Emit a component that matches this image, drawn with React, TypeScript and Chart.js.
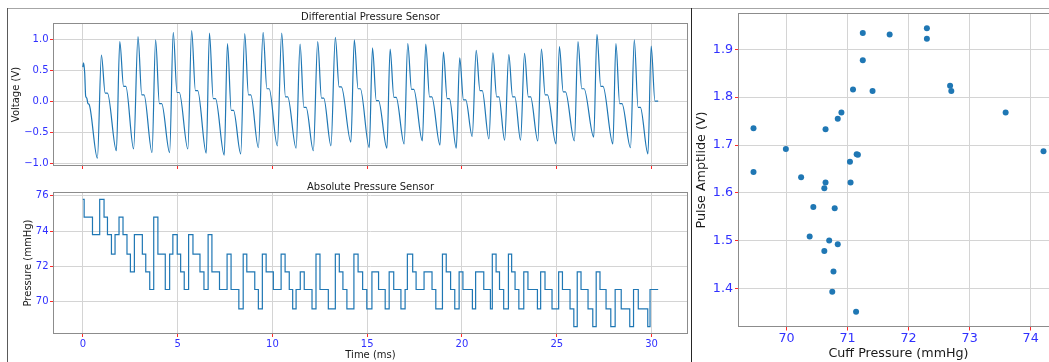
import { useEffect, useRef } from "react";
import { Chart, registerables } from "chart.js";

Chart.register(...registerables);

// ---- axis ticks ----
const timeTicks = [0, 5, 10, 15, 20, 25, 30];
const voltTicks = [-1.0, -0.5, 0.0, 0.5, 1.0];
const pressureTicks = [70, 72, 74, 76];
const cuffTicks = [70, 71, 72, 73, 74];
const ampTicks = [1.4, 1.5, 1.6, 1.7, 1.8, 1.9];

// ---- differential pressure sensor (V) ----
// opening fragment before the first full beat
const leadTimes = [0.0, 0.04, 0.1, 0.15, 0.21, 0.27, 0.33];
const leadVolts = [0.55, 0.62, 0.45, 0.08, 0.05, -0.04, -0.05];
// one entry per beat: trough before the upstroke, systolic peak, dicrotic shelf
const troughTimes = [0.77, 1.77, 2.68, 3.65, 4.58, 5.54, 6.51, 7.46, 8.33, 9.26, 10.26, 11.25, 12.16, 13.09, 14.14, 15.11, 16.04, 16.95, 17.91, 18.84, 19.7, 20.54, 21.42, 22.25, 23.09, 24.0, 24.96, 25.93, 26.95, 27.96, 28.89, 29.81];
const troughVolts = [-0.92, -0.8, -0.77, -0.83, -0.83, -0.77, -0.84, -0.87, -0.85, -0.75, -0.72, -0.76, -0.8, -0.72, -0.66, -0.75, -0.76, -0.69, -0.64, -0.71, -0.76, -0.57, -0.61, -0.63, -0.63, -0.64, -0.69, -0.64, -0.58, -0.69, -0.75, -0.85];
const peakTimes = [0.98, 1.95, 2.91, 3.84, 4.77, 5.74, 6.68, 7.63, 8.54, 9.51, 10.49, 11.46, 12.39, 13.32, 14.32, 15.28, 16.21, 17.14, 18.09, 19.02, 19.88, 20.75, 21.63, 22.47, 23.3, 24.19, 25.14, 26.12, 27.12, 28.12, 29.09, 29.98];
const peakVolts = [0.745, 0.96, 1.04, 0.99, 1.11, 1.14, 1.1, 0.93, 1.09, 1.11, 1.1, 0.92, 0.96, 1.03, 0.99, 0.86, 0.84, 0.93, 0.92, 0.79, 0.7, 0.82, 0.78, 0.75, 0.77, 0.84, 0.88, 0.96, 1.08, 0.93, 0.99, 0.89];
const notchVolts = [0.13, 0.24, 0.1, -0.04, 0.14, 0.17, 0.04, -0.15, 0.1, 0.2, 0.07, -0.1, 0.05, 0.23, 0.2, 0.01, 0.06, 0.19, 0.07, 0.04, 0.02, 0.17, 0.07, 0.07, 0.07, 0.1, 0.15, 0.2, 0.24, -0.04, -0.1, 0.0];
const tailTimes = [30.35];
const tailVolts = [0.0];
const NOTCH_START = 0.2; // ms after the peak
const NOTCH_END = 0.32;

// ---- absolute pressure sensor (mmHg), value held from each time onwards ----
const absTimes = [0, 0.07, 0.51, 0.89, 1.12, 1.3, 1.51, 1.7, 1.91, 2.12, 2.33, 2.51, 2.72, 3.14, 3.32, 3.53, 3.74, 3.96, 4.35, 4.58, 4.75, 4.98, 5.16, 5.35, 5.58, 5.81, 6.18, 6.39, 6.61, 6.81, 7.21, 7.61, 7.82, 8.23, 8.46, 8.65, 9.07, 9.26, 9.47, 9.67, 10.05, 10.46, 10.67, 10.89, 11.07, 11.25, 11.47, 11.68, 12.09, 12.3, 12.51, 12.95, 13.32, 13.53, 13.72, 13.93, 14.3, 14.52, 14.76, 14.98, 15.25, 15.6, 15.95, 16.16, 16.4, 16.78, 17.0, 17.12, 17.4, 17.58, 18.0, 18.42, 18.62, 18.97, 19.17, 19.4, 19.62, 19.85, 20.05, 20.55, 20.72, 21.15, 21.5, 21.6, 21.8, 21.98, 22.2, 22.45, 22.62, 22.8, 23.0, 23.26, 23.48, 23.98, 24.15, 24.38, 24.75, 25.1, 25.3, 25.7, 25.9, 26.08, 26.28, 26.65, 26.9, 27.08, 27.28, 27.6, 27.85, 28.08, 28.4, 28.85, 29.05, 29.3, 29.8, 29.92, 30.35];
const absLevels = [75.8, 74.8, 73.8, 75.8, 74.8, 73.8, 72.7, 73.8, 74.8, 73.8, 72.7, 71.7, 73.8, 72.7, 71.7, 70.7, 74.8, 72.7, 70.7, 72.7, 73.8, 72.7, 71.7, 70.7, 73.8, 72.7, 71.7, 70.7, 73.8, 71.7, 70.7, 72.7, 70.7, 69.6, 72.7, 71.7, 70.7, 69.6, 72.7, 71.7, 70.7, 72.7, 71.7, 70.7, 69.6, 70.7, 71.7, 70.7, 69.6, 72.7, 70.7, 69.6, 72.7, 71.7, 70.7, 69.6, 72.7, 71.7, 70.7, 69.6, 71.7, 70.7, 69.6, 71.7, 70.7, 69.6, 70.7, 72.7, 71.7, 70.7, 71.7, 70.7, 69.6, 72.7, 71.7, 70.7, 69.6, 71.7, 70.7, 69.6, 71.7, 70.7, 69.6, 72.7, 71.7, 70.7, 69.6, 72.7, 71.7, 70.7, 69.6, 71.7, 70.7, 69.6, 71.7, 70.7, 69.6, 71.7, 70.7, 69.6, 68.6, 71.7, 70.7, 69.6, 68.6, 71.7, 70.7, 69.6, 68.6, 70.7, 69.6, 68.6, 70.7, 69.6, 68.6, 70.7, 70.7];

// ---- pulse amplitude vs cuff pressure ----
const cuffPressures = [69.46, 69.46, 69.99, 70.24, 70.64, 70.84, 70.9, 71.04, 71.09, 71.15, 71.17, 71.25, 71.25, 71.41, 71.69, 72.3, 72.3, 72.68, 72.7, 73.59, 74.21, 70.64, 71.05, 70.62, 70.44, 70.79, 70.38, 70.7, 70.84, 70.62, 70.77, 70.75, 71.14];
const pulseAmps = [1.735, 1.644, 1.692, 1.633, 1.733, 1.755, 1.768, 1.665, 1.816, 1.681, 1.68, 1.934, 1.877, 1.813, 1.931, 1.944, 1.922, 1.824, 1.813, 1.768, 1.687, 1.622, 1.622, 1.61, 1.571, 1.568, 1.509, 1.501, 1.493, 1.479, 1.436, 1.394, 1.352];

// axis limits (data range plus 5% margin)
const TIME_MIN = -1.52;
const TIME_MAX = 31.87;
const VOLT_MIN = -1.03;
const VOLT_MAX = 1.245;
const PRESS_MIN = 68.24;
const PRESS_MAX = 76.16;
const CUFF_MIN = 69.2225;
const CUFF_MAX = 74.4475;
const AMP_MIN = 1.3224;
const AMP_MAX = 1.9736;

const FAMILY = "'DejaVu Sans', 'Liberation Sans', sans-serif";
const LINE_BLUE = "#1f77b4";
const TICK_BLUE = "#3030ff";
const TICK_RED = "#ff2a2a";
const GRID = "#d4d4d4";
const SPINE = "#8c8c8c";
const TEXT = "#1a1a1a";

const minus = (s: string) => s.replace("-", "\u2212");

function diffPoints() {
  const pts = leadTimes.map((t, i) => ({ x: t, y: leadVolts[i] }));
  peakTimes.forEach((p, i) => {
    pts.push({ x: troughTimes[i], y: troughVolts[i] });
    pts.push({ x: p, y: peakVolts[i] });
    pts.push({ x: p + NOTCH_START, y: notchVolts[i] });
    pts.push({ x: p + NOTCH_END, y: notchVolts[i] });
  });
  tailTimes.forEach((t, i) => pts.push({ x: t, y: tailVolts[i] }));
  return pts;
}

const framePlugin = {
  id: "frame",
  afterDatasetsDraw(chart: any) {
    const { ctx, chartArea: a } = chart;
    ctx.save();
    ctx.strokeStyle = SPINE;
    ctx.lineWidth = 1;
    const l = Math.round(a.left) - 0.5;
    const t = Math.round(a.top) - 0.5;
    const r = Math.round(a.right) + 0.5;
    const b = Math.round(a.bottom) + 0.5;
    ctx.strokeRect(l, t, r - l, b - t);
    ctx.restore();
  },
};

function fixSize(size: number) {
  return (scale: any) => {
    if (scale.isHorizontal()) scale.height = size;
    else scale.width = size;
    scale.paddingLeft = 0;
    scale.paddingRight = 0;
    scale.paddingTop = 0;
    scale.paddingBottom = 0;
  };
}

function useTicks(values: number[]) {
  return (scale: any) => {
    scale.ticks = values.map((v) => ({ value: v }));
  };
}

function grid(tickLength: number) {
  return { color: GRID, lineWidth: 1, tickColor: TICK_RED, tickLength, tickWidth: 1 };
}

const common = {
  animation: false as const,
  responsive: false,
  maintainAspectRatio: false,
  events: [] as any[],
};

function topConfig(): any {
  return {
    type: "line",
    data: {
      datasets: [
        {
          data: diffPoints(),
          borderColor: LINE_BLUE,
          borderWidth: 1.2,
          pointRadius: 0,
          fill: false,
          cubicInterpolationMode: "monotone",
        },
      ],
    },
    options: {
      ...common,
      layout: { padding: { left: 0, right: 13, top: 0, bottom: 0 } },
      plugins: {
        legend: { display: false },
        tooltip: { enabled: false },
        title: {
          display: true,
          fullSize: false,
          text: "Differential Pressure Sensor",
          color: TEXT,
          font: { family: FAMILY, size: 10, weight: "normal" },
          padding: { top: 11, bottom: 1 },
        },
      },
      scales: {
        x: {
          type: "linear",
          min: TIME_MIN,
          max: TIME_MAX,
          afterBuildTicks: useTicks(timeTicks),
          afterFit: fixSize(7),
          ticks: { display: false },
          grid: grid(4),
          border: { display: false },
        },
        y: {
          type: "linear",
          min: VOLT_MIN,
          max: VOLT_MAX,
          afterBuildTicks: useTicks(voltTicks),
          afterFit: fixSize(54),
          ticks: {
            color: TICK_BLUE,
            font: { family: FAMILY, size: 10 },
            padding: 1.5,
            callback: (v: number) => minus(v.toFixed(1)),
          },
          grid: grid(4),
          border: { display: false },
          title: {
            display: true,
            text: "Voltage (V)",
            color: TEXT,
            font: { family: FAMILY, size: 10 },
            padding: { top: 10, bottom: 0 },
          },
        },
      },
    },
    plugins: [framePlugin],
  };
}

function bottomConfig(): any {
  return {
    type: "line",
    data: {
      datasets: [
        {
          data: absTimes.map((t, i) => ({ x: t, y: absLevels[i] })),
          borderColor: LINE_BLUE,
          borderWidth: 1.2,
          pointRadius: 0,
          fill: false,
          stepped: true,
        },
      ],
    },
    options: {
      ...common,
      layout: { padding: { left: 0, right: 13, top: 0, bottom: 0 } },
      plugins: {
        legend: { display: false },
        tooltip: { enabled: false },
        title: {
          display: true,
          fullSize: false,
          text: "Absolute Pressure Sensor",
          color: TEXT,
          font: { family: FAMILY, size: 10, weight: "normal" },
          padding: { top: 6, bottom: 0 },
        },
      },
      scales: {
        x: {
          type: "linear",
          min: TIME_MIN,
          max: TIME_MAX,
          afterBuildTicks: useTicks(timeTicks),
          afterFit: fixSize(29),
          ticks: {
            color: TICK_BLUE,
            font: { family: FAMILY, size: 10 },
            padding: 1,
            maxRotation: 0,
            callback: (v: number) => String(v),
          },
          grid: grid(4),
          border: { display: false },
          title: {
            display: true,
            text: "Time (ms)",
            color: TEXT,
            font: { family: FAMILY, size: 10 },
            padding: { top: 0, bottom: 1 },
          },
        },
        y: {
          type: "linear",
          min: PRESS_MIN,
          max: PRESS_MAX,
          afterBuildTicks: useTicks(pressureTicks),
          afterFit: fixSize(54),
          ticks: {
            color: TICK_BLUE,
            font: { family: FAMILY, size: 10 },
            padding: 1.5,
            callback: (v: number) => String(v),
          },
          grid: grid(4),
          border: { display: false },
          title: {
            display: true,
            text: "Pressure (mmHg)",
            color: TEXT,
            font: { family: FAMILY, size: 10 },
            padding: { top: 22, bottom: 0 },
          },
        },
      },
    },
    plugins: [framePlugin],
  };
}

function scatterConfig(): any {
  const big = 12.7;
  return {
    type: "scatter",
    data: {
      datasets: [
        {
          data: cuffPressures.map((x, i) => ({ x, y: pulseAmps[i] })),
          pointRadius: 3,
          pointBackgroundColor: LINE_BLUE,
          pointBorderColor: LINE_BLUE,
          pointBorderWidth: 0,
        },
      ],
    },
    options: {
      ...common,
      layout: { padding: { left: 0, right: 14, top: 14, bottom: 0 } },
      plugins: { legend: { display: false }, tooltip: { enabled: false } },
      scales: {
        x: {
          type: "linear",
          min: CUFF_MIN,
          max: CUFF_MAX,
          afterBuildTicks: useTicks(cuffTicks),
          afterFit: fixSize(36),
          ticks: {
            color: TICK_BLUE,
            font: { family: FAMILY, size: big },
            padding: 0.5,
            maxRotation: 0,
            callback: (v: number) => String(v),
          },
          grid: grid(4.5),
          border: { display: false },
          title: {
            display: true,
            text: "Cuff Pressure (mmHg)",
            color: TEXT,
            font: { family: FAMILY, size: big },
            padding: { top: 0, bottom: 0.5 },
          },
        },
        y: {
          type: "linear",
          min: AMP_MIN,
          max: AMP_MAX,
          afterBuildTicks: useTicks(ampTicks),
          afterFit: fixSize(47),
          ticks: {
            color: TICK_BLUE,
            font: { family: FAMILY, size: big },
            padding: 2,
            callback: (v: number) => v.toFixed(1),
          },
          grid: grid(4),
          border: { display: false },
          title: {
            display: true,
            text: "Pulse Amptlide (V)",
            color: TEXT,
            font: { family: FAMILY, size: big },
            padding: { top: 2.4, bottom: 0 },
          },
        },
      },
    },
    plugins: [framePlugin],
  };
}

export default function App() {
  const topRef = useRef<HTMLCanvasElement>(null);
  const bottomRef = useRef<HTMLCanvasElement>(null);
  const scatterRef = useRef<HTMLCanvasElement>(null);

  useEffect(() => {
    const charts = [
      new Chart(topRef.current!, topConfig()),
      new Chart(bottomRef.current!, bottomConfig()),
      new Chart(scatterRef.current!, scatterConfig()),
    ];
    return () => charts.forEach((c) => c.destroy());
  }, []);

  const abs = (l: number, t: number, w: number, h: number): React.CSSProperties => ({
    position: "absolute",
    left: l,
    top: t,
    width: w,
    height: h,
  });

  return (
    <div style={{ position: "fixed", left: 0, top: 0, width: 1049, height: 362, background: "#fff", overflow: "hidden" }}>
      <canvas ref={topRef} width={700} height={172} style={abs(0, 0, 700, 172)} />
      <canvas ref={bottomRef} width={700} height={187} style={abs(0, 175, 700, 187)} />
      <div style={{ ...abs(692, 0, 357, 362), overflow: "hidden" }}>
        <canvas ref={scatterRef} width={380} height={362} style={abs(0, 0, 380, 362)} />
      </div>
      <div style={{ ...abs(7, 8, 1042, 1), background: "#a6a6a6" }} />
      <div style={{ ...abs(7, 8, 1, 354), background: "#5a5a5a" }} />
      <div style={{ ...abs(691, 8, 1, 354), background: "#262626" }} />
    </div>
  );
}
